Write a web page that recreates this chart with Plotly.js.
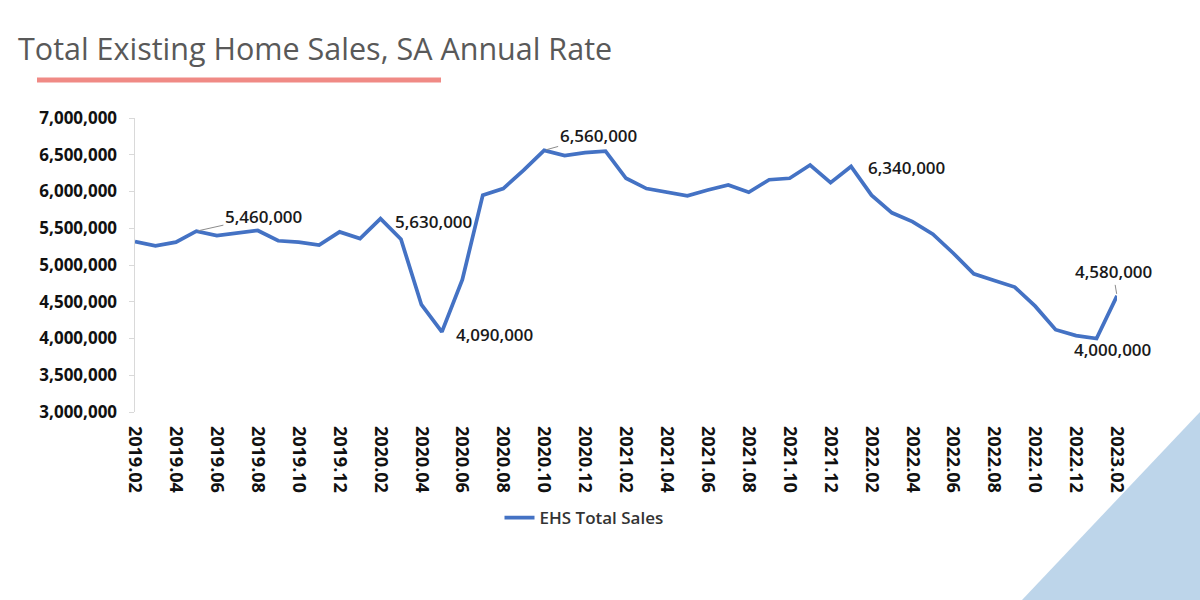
<!DOCTYPE html>
<html>
<head>
<meta charset="utf-8">
<script src="https://cdn.plot.ly/plotly-3.0.1.min.js"></script>
<style>
  html, body { margin: 0; padding: 0; background: #ffffff; }
  #chart { width: 1200px; height: 600px; }
</style>
</head>
<body>
<div id="chart"></div>
<script>
// ---- Data ----
const months = [
  "2019.02","2019.03","2019.04","2019.05","2019.06","2019.07","2019.08","2019.09","2019.10","2019.11","2019.12",
  "2020.01","2020.02","2020.03","2020.04","2020.05","2020.06","2020.07","2020.08","2020.09","2020.10","2020.11","2020.12",
  "2021.01","2021.02","2021.03","2021.04","2021.05","2021.06","2021.07","2021.08","2021.09","2021.10","2021.11","2021.12",
  "2022.01","2022.02","2022.03","2022.04","2022.05","2022.06","2022.07","2022.08","2022.09","2022.10","2022.11","2022.12",
  "2023.01","2023.02"
];
const ehsTotalSales = [
  5320000, 5260000, 5310000, 5460000, 5400000, 5430000, 5470000, 5330000, 5310000, 5270000, 5450000,
  5360000, 5630000, 5350000, 4460000, 4090000, 4800000, 5950000, 6040000, 6290000, 6560000, 6490000, 6530000,
  6550000, 6180000, 6040000, 5990000, 5940000, 6020000, 6090000, 5990000, 6160000, 6180000, 6360000, 6120000,
  6340000, 5950000, 5710000, 5590000, 5420000, 5160000, 4880000, 4790000, 4700000, 4440000, 4120000, 4040000,
  4000000, 4580000
];
const seriesName = "EHS Total Sales";
const chartTitle = "Total Existing Home Sales, SA Annual Rate";
// months that carry a data label
const labeledMonths = ["2019.05","2020.02","2020.05","2020.10","2022.01","2023.01","2023.02"];

// ---- Layout geometry (pixels) ----
const W = 1200, H = 600;
const M = { l: 135, r: 83, t: 118, b: 188 };
const plotW = W - M.l - M.r, plotH = H - M.t - M.b;
const px2x = px => (px - M.l) / plotW;
const py2y = py => (H - M.b - py) / plotH;

// label placement styles (offsets in px relative to the point)
const labelStyle = {
  "2019.05": { ax: 67, ay: -15, arrow: true },
  "2020.02": { xs: 53, ys: -3, arrow: false },
  "2020.05": { xs: 53, ys: -3, arrow: false },
  "2020.10": { ax: 54, ay: -15, arrow: true },
  "2022.01": { xs: 55, ys: -1, arrow: false },
  "2023.01": { xs: 16, ys: -11, arrow: false },
  "2023.02": { ax: -4, ay: -24, arrow: true }
};

const fmt = v => String(v).replace(/\B(?=(\d{3})+(?!\d))/g, ',');

const annotations = labeledMonths.map(m => {
  const i = months.indexOf(m);
  const s = labelStyle[m];
  const a = {
    x: i, y: ehsTotalSales[i], xref: 'x', yref: 'y',
    text: fmt(ehsTotalSales[i]),
    font: { family: "Open Sans, sans-serif", size: 17, weight: 600, color: "#1a1a1a" }
  };
  if (s.arrow) {
    Object.assign(a, { showarrow: true, ax: s.ax, ay: s.ay, arrowhead: 0, arrowwidth: 1,
      arrowcolor: '#8c8c8c', standoff: 2 });
  } else {
    Object.assign(a, { showarrow: false, xshift: s.xs, yshift: s.ys });
  }
  return a;
});

const tickMonths = months.filter((m, i) => i % 2 === 0);

const trace = {
  type: 'scatter', mode: 'lines',
  x: months, y: ehsTotalSales, name: seriesName,
  line: { color: '#4472C4', width: 3.75 },
  showlegend: true
};

const layout = {
  width: W, height: H,
  margin: M,
  paper_bgcolor: '#ffffff', plot_bgcolor: '#ffffff',
  title: {
    text: chartTitle,
    x: 18 / W, xanchor: 'left', xref: 'container',
    y: 1 - 49 / H, yanchor: 'middle', yref: 'container',
    font: { family: "Open Sans, sans-serif", size: 30.5, color: '#595959' }
  },
  xaxis: {
    type: 'category',
    range: [0, months.length - 1],
    tickmode: 'array', tickvals: tickMonths, ticktext: tickMonths,
    tickangle: 90,
    tickfont: { family: "Open Sans, sans-serif", size: 18, weight: 700, color: '#111111' },
    showline: false, showgrid: false, zeroline: false, ticks: '',
    ticklabelstandoff: 13,
    automargin: false, fixedrange: true
  },
  yaxis: {
    range: [3000000, 7000000],
    tickmode: 'linear', tick0: 3000000, dtick: 500000,
    tickformat: ',d',
    tickfont: { family: "Open Sans, sans-serif", size: 17, weight: 700, color: '#111111' },
    showline: true, linecolor: '#d9d9d9', linewidth: 1.5,
    ticks: 'outside', ticklen: 5, tickcolor: '#d9d9d9', tickwidth: 1,
    ticklabelstandoff: 8,
    showgrid: false, zeroline: false,
    automargin: false, fixedrange: true
  },
  legend: {
    orientation: 'h',
    x: px2x(584), xanchor: 'center', xref: 'paper',
    y: py2y(518), yanchor: 'middle', yref: 'paper',
    font: { family: "Open Sans, sans-serif", size: 17, weight: 600, color: '#333333' },
    bgcolor: 'rgba(0,0,0,0)'
  },
  annotations: annotations,
  shapes: [
    { type: 'line', xref: 'paper', yref: 'paper',
      x0: px2x(37), x1: px2x(441), y0: py2y(80), y1: py2y(80),
      line: { color: '#F08A85', width: 5 } },
    { type: 'path', xref: 'paper', yref: 'paper', layer: 'below',
      path: `M ${px2x(1022)} ${py2y(600)} L ${px2x(1200)} ${py2y(412)} L ${px2x(1200)} ${py2y(600)} Z`,
      fillcolor: '#BDD5EA', line: { width: 0 } }
  ],
  showlegend: true
};

Plotly.newPlot('chart', [trace], layout, { displayModeBar: false, staticPlot: true });
</script>
</body>
</html>
